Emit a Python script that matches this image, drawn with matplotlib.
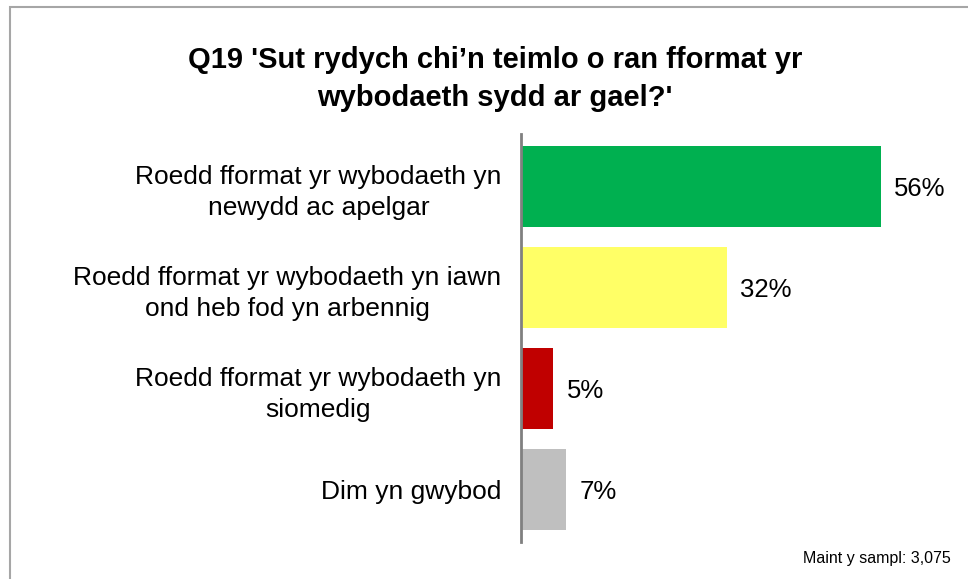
import matplotlib.pyplot as plt
from matplotlib.patches import Rectangle

plt.rcParams['font.family'] = ['Liberation Sans', 'DejaVu Sans']

# Data
categories = [
    'Roedd fformat yr wybodaeth yn\nnewydd ac apelgar',
    'Roedd fformat yr wybodaeth yn iawn\nond heb fod yn arbennig',
    'Roedd fformat yr wybodaeth yn\nsiomedig',
    'Dim yn gwybod',
]
values = [56, 32, 5, 7]
colors = ['#00B050', '#FFFF66', '#C00000', '#BFBFBF']

W, H = 968, 579
fig = plt.figure(figsize=(W / 100, H / 100), dpi=100)

# outer frame (cut off at the right/bottom edges like the original)
fig.patches.append(Rectangle((10 / W, -0.05), 1.1, 1 - 7 / H + 0.05,
                             transform=fig.transFigure, fill=False,
                             edgecolor='#A6A6A6', linewidth=1.5))

ax = fig.add_axes([521 / W, 1 - 542 / H, (940 - 521) / W, (542 - 134) / H])
y = range(len(values))
ax.barh(y, values, height=0.8, color=colors)
ax.set_ylim(3.52, -0.52)
ax.set_xlim(0, 65.2)

for i, v in enumerate(values):
    ax.text(v + 2.1, i + 0.02, f'{v}%', va='center', ha='left', fontsize=18.5)

ax.set_yticks(list(y))
ax.set_yticklabels(categories, fontsize=19, multialignment='center', linespacing=1.35)
ax.tick_params(axis='y', length=0, pad=14)
ax.set_xticks([])
for s in ['top', 'right', 'bottom']:
    ax.spines[s].set_visible(False)
ax.spines['left'].set_color('#808080')
ax.spines['left'].set_linewidth(2)

fig.text(495 / W, 1 - 79 / H,
         "Q19 'Sut rydych chi\u2019n teimlo o ran fformat yr\nwybodaeth sydd ar gael?'",
         ha='center', va='center', fontsize=21, fontweight='bold', linespacing=1.42)

fig.text(951 / W, 1 - 558 / H, 'Maint y sampl: 3,075', ha='right', va='center', fontsize=11.5)

plt.savefig('out.png', dpi=100)
